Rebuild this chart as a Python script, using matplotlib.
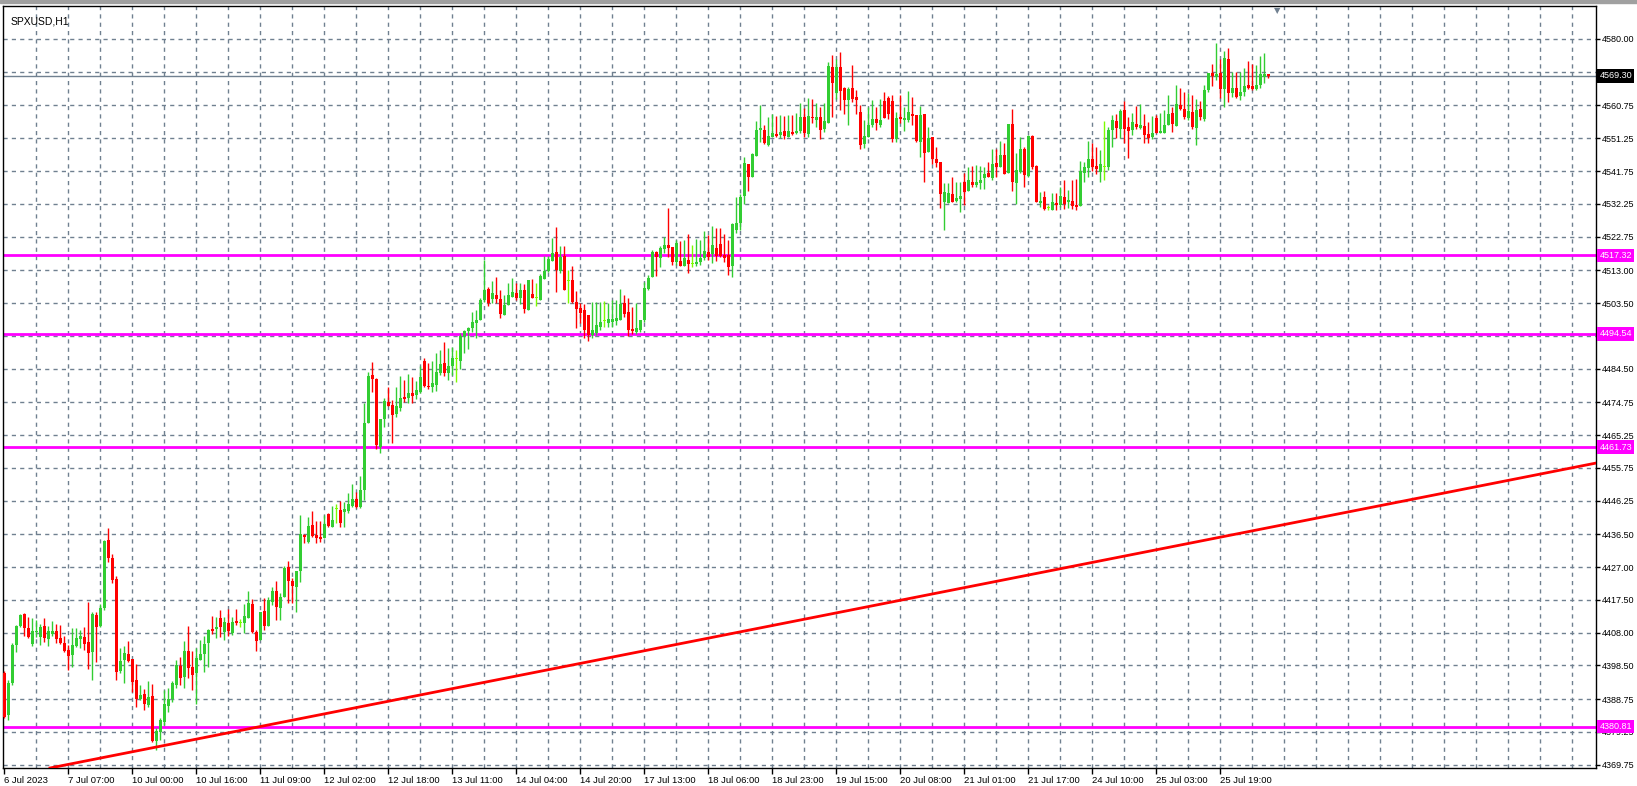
import matplotlib
matplotlib.use("Agg")
import matplotlib.pyplot as plt
import matplotlib.transforms as mtrans
import numpy as np

# ---------------- data (SPXUSD H1) ----------------
opens = [4396.3,4384.2,4393.4,4404.4,4409.9,4413.4,4409.4,4404.7,4408.2,4406.8,
4410.0,4406.2,4407.6,4408.5,4406.5,4405.0,4403.0,4401.5,4404.2,4406.2,
4406.8,4405.3,4402.4,4413.1,4409.9,4415.2,4434.9,4429.6,4423.6,4396.9,
4400.1,4401.8,4400.4,4394.3,4388.8,4390.2,4387.1,4389.7,4376.6,4379.2,
4382.1,4386.8,4388.8,4392.9,4398.4,4395.2,4402.7,4398.1,4396.3,4400.1,
4401.8,4405.0,4409.1,4409.1,4412.3,4408.2,4410.8,4407.9,4411.4,4410.8,
4410.8,4412.3,4416.3,4408.2,4405.9,4414.3,4410.0,4416.9,4420.1,4415.2,
4418.4,4427.0,4423.0,4421.2,4425.9,4436.3,4434.3,4439.2,4436.3,4435.7,
4435.4,4442.4,4438.6,4443.8,4443.6,4443.0,4443.3,4444.7,4446.7,4444.4,
4449.3,4468.8,4482.7,4481.5,4461.8,4469.9,4474.8,4474.0,4471.4,4473.1,
4476.3,4476.0,4477.5,4476.9,4477.7,4486.7,4479.5,4479.2,4479.8,4483.2,
4486.1,4483.2,4485.3,4487.3,4486.7,4494.0,4495.4,4496.3,4497.7,4498.6,
4504.4,4507.6,4504.7,4505.8,4504.7,4500.1,4502.9,4505.3,4506.4,4505.0,
4507.3,4501.5,4506.1,4505.0,4504.4,4510.5,4512.8,4515.7,4518.3,4512.8,
4517.1,4509.9,4510.2,4503.8,4502.1,4501.5,4500.0,4494.2,4494.8,4496.6,
4498.3,4497.7,4498.0,4498.3,4498.6,4503.5,4500.9,4496.0,4495.1,4495.7,
4498.6,4507.6,4511.1,4518.3,4516.6,4519.2,4520.3,4519.7,4515.4,4515.7,
4514.2,4516.0,4514.8,4514.8,4515.4,4516.6,4518.3,4517.7,4519.5,4520.6,
4517.4,4517.4,4514.2,4524.7,4526.7,4534.5,4543.8,4540.0,4546.1,4553.6,
4553.6,4549.3,4551.6,4552.5,4552.2,4553.4,4551.6,4553.1,4552.8,4553.4,
4557.4,4552.5,4557.4,4556.5,4557.4,4553.9,4555.7,4571.9,4564.4,4571.9,
4565.8,4562.3,4565.8,4563.2,4558.9,4549.6,4551.6,4555.1,4556.8,4555.1,
4562.0,4562.9,4562.0,4551.0,4557.4,4556.5,4556.5,4558.3,4558.0,4550.2,
4558.3,4547.3,4551.6,4545.2,4544.4,4532.8,4532.5,4535.1,4533.1,4533.6,
4538.6,4536.0,4538.6,4537.7,4538.3,4539.7,4541.2,4539.7,4544.1,4542.9,
4546.4,4541.2,4555.4,4538.3,4541.5,4548.1,4540.3,4551.9,4543.2,4532.5,
4534.2,4531.0,4530.4,4532.5,4531.9,4534.2,4532.8,4533.1,4531.9,4531.6,
4541.2,4542.6,4545.2,4543.2,4541.5,4542.9,4542.9,4553.6,4556.2,4553.9,
4559.4,4554.5,4553.6,4555.4,4554.2,4554.8,4552.5,4551.6,4557.1,4552.8,
4552.8,4555.1,4558.6,4554.8,4560.9,4559.7,4557.1,4558.9,4554.2,4559.7,
4556.8,4565.2,4570.2,4569.0,4570.2,4565.5,4574.2,4564.4,4565.8,4563.5,
4564.6,4566.7,4566.4,4565.5,4566.7,4569.0,4569.9]
highs = [4396.9,4394.3,4405.0,4410.2,4413.4,4413.7,4412.6,4412.3,4411.7,4410.5,
4412.3,4410.0,4411.4,4410.5,4410.2,4407.1,4404.4,4409.4,4409.4,4408.8,
4409.7,4416.9,4414.0,4414.0,4416.3,4434.9,4438.3,4430.8,4424.4,4403.6,
4404.2,4405.6,4400.4,4398.9,4392.9,4391.7,4394.0,4393.1,4380.4,4383.3,
4391.4,4392.0,4394.0,4400.1,4401.0,4405.6,4410.0,4402.7,4403.6,4405.9,
4407.1,4409.1,4412.9,4412.6,4414.6,4412.6,4414.9,4412.6,4414.9,4412.0,
4416.3,4420.1,4417.8,4408.8,4414.0,4418.1,4418.4,4421.3,4423.0,4419.5,
4427.3,4428.8,4423.8,4425.9,4442.1,4436.6,4441.5,4443.3,4440.4,4440.4,
4442.1,4442.7,4444.7,4445.3,4446.2,4445.9,4448.5,4451.1,4448.8,4453.4,
4474.6,4483.5,4486.4,4481.8,4469.9,4476.0,4479.2,4475.4,4479.2,4482.4,
4481.2,4482.9,4482.1,4481.0,4485.3,4487.6,4486.1,4486.7,4489.0,4489.9,
4492.2,4490.5,4490.8,4489.9,4494.8,4495.7,4496.6,4500.9,4501.5,4505.0,
4516.0,4508.2,4509.9,4511.1,4507.3,4505.8,4509.3,4510.8,4509.3,4509.3,
4509.0,4510.2,4510.5,4509.3,4511.9,4517.1,4517.1,4522.4,4525.5,4520.0,
4520.0,4513.1,4514.2,4507.0,4503.5,4503.2,4500.0,4503.8,4503.8,4503.8,
4504.1,4503.5,4504.4,4504.4,4507.6,4505.8,4505.0,4502.4,4503.5,4498.6,
4509.6,4511.6,4518.9,4518.6,4520.0,4522.6,4531.0,4519.7,4521.8,4521.5,
4521.8,4523.5,4520.3,4522.1,4521.8,4524.4,4523.2,4525.8,4525.2,4525.2,
4523.5,4521.8,4526.7,4534.2,4535.1,4545.8,4543.8,4547.0,4556.2,4560.9,
4555.1,4557.4,4558.3,4557.7,4558.0,4557.7,4558.0,4558.0,4558.6,4561.5,
4560.0,4562.9,4562.6,4561.5,4560.3,4561.5,4573.3,4575.4,4574.2,4576.2,
4566.1,4566.1,4572.5,4565.2,4560.9,4556.5,4560.3,4562.3,4560.3,4562.6,
4564.6,4563.5,4563.8,4558.9,4563.8,4560.3,4564.9,4563.2,4558.0,4560.6,
4558.3,4554.5,4551.6,4548.7,4544.4,4538.3,4538.3,4540.0,4538.6,4538.6,
4541.2,4542.9,4543.2,4543.5,4543.2,4542.9,4544.4,4548.1,4548.1,4550.5,
4549.9,4555.4,4559.7,4547.0,4551.6,4548.7,4552.2,4552.2,4543.5,4535.7,
4536.0,4531.9,4535.4,4535.4,4537.1,4539.2,4536.3,4539.2,4539.4,4544.7,
4544.4,4550.5,4549.9,4548.7,4547.8,4556.2,4554.5,4558.0,4558.3,4559.7,
4562.0,4557.4,4558.6,4560.6,4561.2,4558.3,4556.0,4557.7,4558.0,4558.6,
4559.4,4563.8,4560.3,4566.7,4565.8,4564.6,4564.4,4563.8,4562.6,4562.0,
4566.7,4570.2,4572.8,4578.8,4574.2,4576.5,4577.4,4570.4,4570.4,4570.4,
4571.6,4573.6,4572.8,4572.5,4575.1,4575.9,4569.9]
lows = [4383.3,4382.7,4392.9,4402.4,4409.7,4407.1,4406.5,4404.2,4406.8,4404.4,
4405.3,4404.2,4407.1,4405.0,4404.7,4402.4,4397.2,4398.1,4403.9,4403.6,
4403.0,4397.5,4394.3,4399.5,4409.7,4414.6,4428.5,4422.4,4394.3,4396.3,
4393.4,4399.5,4390.8,4386.5,4388.5,4385.6,4386.5,4376.3,4374.0,4376.9,
4381.3,4385.0,4387.9,4392.0,4392.9,4392.0,4394.9,4391.4,4387.4,4400.1,
4396.6,4398.1,4407.6,4406.5,4406.8,4405.9,4407.1,4407.3,4410.2,4409.7,
4407.9,4412.3,4407.9,4402.7,4405.9,4408.8,4410.0,4416.0,4411.7,4411.7,
4418.4,4416.6,4416.6,4414.0,4422.7,4434.0,4434.0,4435.7,4434.0,4434.3,
4435.4,4438.6,4438.6,4439.8,4438.6,4438.6,4442.7,4444.4,4444.1,4444.1,
4446.4,4468.8,4477.7,4461.2,4460.1,4467.6,4473.7,4463.0,4470.5,4472.2,
4474.8,4474.5,4474.5,4475.7,4477.5,4479.2,4478.6,4477.7,4478.0,4482.7,
4482.4,4481.2,4482.7,4480.6,4484.4,4489.0,4490.2,4495.1,4493.4,4498.6,
4503.8,4502.6,4503.5,4503.5,4499.2,4500.1,4502.9,4505.3,4504.4,4503.2,
4500.6,4501.5,4505.0,4502.6,4504.4,4510.5,4512.5,4515.7,4506.7,4512.2,
4507.3,4503.5,4503.5,4496.3,4497.7,4493.4,4492.5,4493.4,4494.2,4495.7,
4496.6,4496.6,4496.6,4497.2,4498.6,4499.5,4494.0,4494.5,4494.5,4495.1,
4498.0,4507.3,4511.1,4511.3,4513.9,4518.0,4516.8,4514.5,4514.5,4514.2,
4514.2,4512.2,4513.9,4514.2,4514.5,4516.0,4516.0,4515.1,4515.7,4516.8,
4515.4,4511.6,4511.1,4523.8,4524.7,4532.2,4536.0,4540.0,4546.1,4550.2,
4549.6,4549.0,4551.6,4551.6,4551.3,4551.0,4551.6,4552.2,4552.5,4552.8,
4551.6,4551.6,4555.7,4554.5,4551.0,4553.1,4555.7,4557.4,4562.6,4559.4,
4558.3,4555.1,4561.8,4558.3,4548.1,4548.4,4551.6,4554.5,4553.6,4554.5,
4557.1,4556.8,4550.2,4550.2,4555.7,4553.4,4555.9,4555.1,4550.2,4545.8,
4538.6,4547.3,4543.8,4542.9,4531.0,4524.7,4532.5,4532.8,4532.8,4529.9,
4531.9,4536.0,4537.1,4537.1,4536.5,4536.5,4540.0,4539.2,4540.0,4542.9,
4540.9,4541.2,4536.0,4532.2,4541.2,4537.1,4540.0,4542.3,4532.8,4531.3,
4530.4,4530.4,4530.4,4530.4,4531.3,4530.8,4531.0,4530.8,4530.4,4531.6,
4538.6,4540.0,4541.8,4540.9,4538.6,4539.2,4542.0,4548.7,4551.3,4551.3,
4549.9,4545.5,4552.2,4553.9,4553.9,4549.9,4549.9,4551.0,4552.8,4552.8,
4552.8,4555.1,4553.1,4554.8,4559.4,4556.8,4556.5,4553.9,4549.3,4556.5,
4556.2,4564.6,4566.4,4568.1,4562.9,4560.3,4561.8,4563.2,4562.9,4562.3,
4563.5,4565.5,4565.2,4565.2,4565.8,4567.3,4568.7]
closes = [4383.6,4393.4,4404.4,4409.9,4413.1,4409.4,4406.8,4408.5,4408.5,4409.7,
4406.5,4408.5,4408.5,4406.2,4405.0,4402.7,4401.3,4404.4,4406.5,4407.1,
4404.7,4402.1,4413.4,4409.7,4415.2,4434.6,4429.6,4423.3,4396.6,4399.8,
4402.1,4399.8,4393.7,4388.8,4390.0,4387.4,4389.4,4376.6,4379.5,4382.7,
4387.4,4388.8,4393.4,4398.6,4394.9,4402.7,4397.8,4395.8,4400.7,4401.8,
4404.7,4408.8,4408.5,4409.7,4409.7,4411.1,4408.5,4411.1,4410.8,4410.8,
4412.8,4416.6,4408.2,4405.6,4414.0,4410.0,4417.5,4420.1,4415.5,4418.4,
4426.8,4423.0,4421.5,4425.9,4436.6,4435.7,4438.9,4436.0,4435.4,4435.1,
4439.5,4438.9,4440.7,4443.8,4439.8,4443.8,4445.3,4446.7,4444.4,4449.3,
4468.8,4482.4,4481.5,4462.4,4469.9,4475.1,4473.7,4471.1,4473.7,4476.0,
4475.7,4477.5,4476.6,4478.3,4482.1,4479.5,4479.2,4480.3,4483.5,4485.9,
4483.2,4485.3,4487.6,4487.3,4494.0,4495.4,4496.3,4498.0,4498.6,4504.4,
4507.3,4503.5,4506.4,4504.7,4500.3,4502.9,4505.8,4506.7,4505.0,4507.3,
4501.8,4510.2,4505.0,4505.0,4511.3,4512.8,4516.3,4518.0,4513.1,4516.8,
4507.3,4509.9,4503.8,4501.8,4500.6,4495.7,4494.2,4495.7,4497.2,4498.0,
4498.3,4498.9,4498.9,4499.2,4503.2,4500.3,4495.7,4495.4,4496.3,4498.6,
4507.9,4510.8,4518.3,4516.8,4519.5,4520.3,4519.5,4515.4,4520.9,4514.2,
4516.6,4514.8,4514.8,4515.4,4516.6,4518.6,4516.8,4520.3,4517.1,4517.1,
4516.6,4514.0,4526.4,4526.7,4534.2,4544.1,4540.0,4546.7,4553.6,4554.2,
4549.9,4551.9,4552.8,4551.9,4553.1,4551.9,4553.4,4552.5,4553.4,4557.4,
4552.8,4557.7,4557.1,4557.4,4553.6,4556.2,4572.2,4567.3,4571.9,4565.0,
4562.3,4565.5,4562.6,4562.3,4549.3,4551.9,4555.1,4556.8,4555.7,4556.5,
4557.1,4558.3,4551.0,4557.1,4556.8,4557.1,4558.9,4557.7,4550.5,4558.0,
4547.0,4551.3,4545.2,4544.1,4535.1,4535.7,4535.4,4532.8,4533.9,4534.5,
4535.7,4539.2,4537.7,4538.6,4539.2,4540.9,4540.0,4543.8,4542.9,4546.4,
4540.9,4555.4,4538.6,4542.0,4548.1,4540.6,4551.9,4542.9,4532.8,4533.1,
4530.8,4531.0,4532.8,4531.9,4534.5,4532.2,4533.4,4531.6,4531.3,4541.8,
4542.9,4545.2,4542.9,4542.3,4543.8,4542.9,4553.6,4556.5,4554.2,4559.1,
4553.9,4553.4,4556.0,4554.5,4555.1,4552.2,4551.3,4552.8,4552.8,4553.4,
4555.1,4558.3,4555.4,4561.2,4559.7,4557.4,4559.1,4554.5,4559.4,4557.4,
4565.2,4570.2,4569.3,4569.9,4565.5,4574.5,4564.4,4565.8,4563.2,4564.6,
4566.4,4565.8,4565.5,4566.7,4569.9,4569.9,4569.3]

time_labels = ["6 Jul 2023", "7 Jul 07:00", "10 Jul 00:00", "10 Jul 16:00", "11 Jul 09:00",
               "12 Jul 02:00", "12 Jul 18:00", "13 Jul 11:00", "14 Jul 04:00", "14 Jul 20:00",
               "17 Jul 13:00", "18 Jul 06:00", "18 Jul 23:00", "19 Jul 15:00", "20 Jul 08:00",
               "21 Jul 01:00", "21 Jul 17:00", "24 Jul 10:00", "25 Jul 03:00", "25 Jul 19:00"]
label_bars = [16 * i for i in range(len(time_labels))]
price_ticks = [4580.00, 4570.50, 4560.75, 4551.25, 4541.75, 4532.25, 4522.75, 4513.00,
               4503.50, 4494.00, 4484.50, 4474.75, 4465.25, 4455.75, 4446.25, 4436.50,
               4427.00, 4417.50, 4408.00, 4398.50, 4388.75, 4379.25, 4369.75]
levels = [4517.32, 4494.54, 4461.73, 4380.81]
current_price = 4569.30
trend_bars = [11.5, 81.5]
trend_prices = [4368.8, 4384.8]

# ---------------- figure ----------------
W, H = 1637, 786
fig = plt.figure(figsize=(W / 100, H / 100), dpi=100)
fig.patch.set_facecolor("white")
ax = fig.add_axes([3 / W, 18 / H, (1596 - 3) / W, (780 - 18) / H])
ax.set_facecolor("white")
FONT = "Liberation Sans"
FS = 6.5

n = len(closes)
x = np.arange(n)
o = np.array(opens); c = np.array(closes); hi = np.array(highs); lo = np.array(lows)

ax.set_xlim(-0.25, 398.0)
ax.set_ylim(4368.8, 4589.56)

grid_kw = dict(color="#708090", lw=1, linestyle=(0, (3, 3)), zorder=1)
for gx in range(8, 399, 8):
    ax.axvline(gx, **grid_kw)
for py in price_ticks:
    ax.axhline(py, **grid_kw)

# levels & lines
for lv in levels:
    ax.axhline(lv, color="#FF00FF", lw=2, zorder=2)
ax.axhline(current_price, color="#708090", lw=1, zorder=2)
ax.axline((trend_bars[0], trend_prices[0]), (trend_bars[1], trend_prices[1]),
          color="#FF0000", lw=2, zorder=4)

# candles
up = c > o
dn = c < o
dj = ~(up | dn)
for mask, col in [(up, "#32CD32"), (dn, "#FF0000"), (dj, "#7CFC00")]:
    ax.vlines(x[mask], lo[mask], hi[mask], color=col, lw=1, zorder=3)
    bottom = np.minimum(o, c)[mask]
    height = np.maximum(np.abs(c - o)[mask], 0.35)
    ax.bar(x[mask], height, bottom=bottom, width=0.75, color=col, linewidth=0, zorder=3)

# axes styling
for s in ax.spines.values():
    s.set_color("black"); s.set_linewidth(1)
ax.yaxis.tick_right()
ax.set_yticks(price_ticks)
ax.set_yticklabels([f"{p:.2f}" for p in price_ticks], fontsize=FS, family=FONT)
ax.tick_params(axis="y", length=3, width=1, pad=1.5, colors="black")
ax.set_xticks(label_bars)
ax.set_xticklabels(time_labels, fontsize=FS + 0.3, family=FONT)
for t in ax.get_xticklabels():
    t.set_horizontalalignment("left")
ax.tick_params(axis="x", length=4, width=1, pad=2)

# right side price boxes
tr = mtrans.blended_transform_factory(ax.transAxes, ax.transData)
for lv in levels:
    ax.text(1.0022, lv, f"{lv:.2f}", transform=tr, fontsize=FS, family=FONT, color="white",
            ha="left", va="center", zorder=10, clip_on=False,
            bbox=dict(boxstyle="square,pad=0.25", fc="#FF00FF", ec="none"))
ax.text(1.0022, current_price, f"{current_price:.2f}", transform=tr, fontsize=FS, family=FONT,
        color="white", ha="left", va="center", zorder=10, clip_on=False,
        bbox=dict(boxstyle="square,pad=0.25", fc="black", ec="none"))

# title
ax.text(8 / 1593, 1 - 10 / 762, "SPXUSD,H1", transform=ax.transAxes, fontsize=7.5,
        family=FONT, ha="left", va="top", color="black", zorder=10)

# top decorations
fig.patches.append(plt.Rectangle((0, 1 - 3 / H), 1, 3 / H, transform=fig.transFigure,
                                 color="#A0A0A0", zorder=0))
fig.text(1277 / W, 1 - 6 / H, "\u25BC", fontsize=6, color="#708090", ha="center", va="top")

fig.savefig("out.png", dpi=100)
